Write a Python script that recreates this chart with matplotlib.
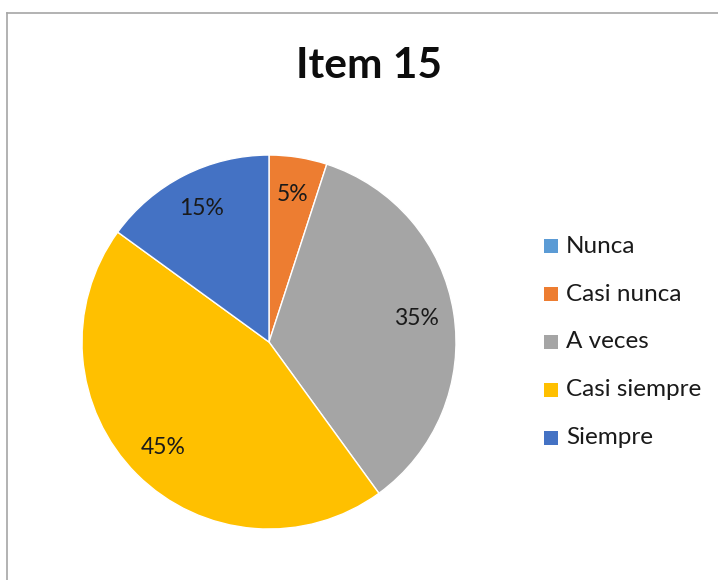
import numpy as np
import matplotlib.pyplot as plt
from matplotlib.lines import Line2D
from matplotlib.patches import Rectangle

categorias = ['Nunca', 'Casi nunca', 'A veces', 'Casi siempre', 'Siempre']
porcentajes = [0, 5, 35, 45, 15]
colores = ['#5B9BD5', '#ED7D31', '#A5A5A5', '#FFC000', '#4472C4']

plt.rcParams['font.family'] = ['Lato', 'DejaVu Sans']

W, H = 718, 580
fig = plt.figure(figsize=(W / 100, H / 100), dpi=100)

# borde del grafico (solo se ve arriba y a la izquierda)
fig.lines.append(Line2D([7 / W, 1], [1 - 13 / H, 1 - 13 / H], transform=fig.transFigure,
                        color='#A6A6A6', linewidth=1.2))
fig.lines.append(Line2D([7 / W, 7 / W], [0, 1 - 13 / H], transform=fig.transFigure,
                        color='#A6A6A6', linewidth=1.2))

fig.text(369 / W, 1 - 66 / H, 'Item 15', ha='center', va='center', fontsize=30.5,
         fontweight='bold', color='#0D0D0D')

ax = fig.add_axes([0.1142, 0.0879, 0.5209, 0.6448])
wedges, textos = ax.pie(porcentajes, colors=colores, startangle=90, counterclock=False,
                        wedgeprops={'edgecolor': 'white', 'linewidth': 1})
for w, p in zip(wedges, porcentajes):
    if p == 0:
        continue
    ang = np.deg2rad((w.theta1 + w.theta2) / 2)
    ax.text(0.8 * np.cos(ang), 0.8 * np.sin(ang), f'{p}%', ha='center', va='center',
            fontsize=16.5, color='#1A1A1A')
ax.set_xlim(-1, 1)
ax.set_ylim(-1, 1)
ax.set_aspect('equal')

# leyenda
y0 = 1 - 246 / H
paso = 48 / H
for i, (cat, col) in enumerate(zip(categorias, colores)):
    y = y0 - i * paso
    fig.patches.append(Rectangle((544 / W, y - 7 / H), 14 / W, 14 / H,
                                 transform=fig.transFigure, facecolor=col, edgecolor='none'))
    fig.text(566 / W, y, cat, ha='left', va='center', fontsize=17.5, color='#1A1A1A')

fig.savefig('out.png', dpi=100)
